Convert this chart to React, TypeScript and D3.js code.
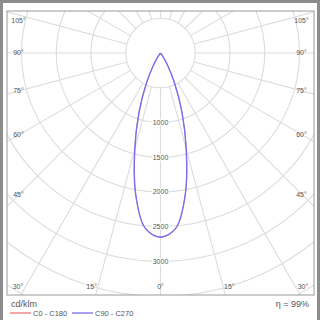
import React from "react";
import * as d3 from "d3";

const angles = [0, 5, 10, 15, 20, 25, 30, 35, 40, 45, 60, 75, 90];
const c0c180 = [2650, 2530, 2060, 1430, 900, 480, 200, 50, 0, 0, 0, 0, 0];
const c90c270 = [2650, 2530, 2060, 1430, 900, 480, 200, 50, 0, 0, 0, 0, 0];
const ringValues = [1000, 1500, 2000, 2500, 3000];
const gridRings = [500, 1000, 1500, 2000, 2500, 3000, 3500, 4000, 4500];
const spokeAngles = d3.range(0, 181, 15);
const sideLabels = [45, 60, 75, 90, 105];
const bottomLabels = [0, 15, 30];
const seriesNames = ["C0 - C180", "C90 - C270"];
const seriesColors = ["#f07878", "#7b6cf0"];
const unitLabel = "cd/klm";
const effLabel = "η = 99%";

export default function App() {
  const W = 320, H = 320;
  const cx = 160.5, cy = 53;
  const fx0 = 7, fy0 = 11, fx1 = 314, fy1 = 295;
  const r = d3.scaleLinear().domain([0, 1000]).range([0, 69.5]);
  const font = "'Liberation Sans', Arial, sans-serif";
  const toXY = (deg: number, v: number, side: number) => {
    const a = (deg * Math.PI) / 180;
    return [cx + side * r(v) * Math.sin(a), cy + r(v) * Math.cos(a)];
  };
  const curve = (vals: number[]) => {
    const pts: [number, number][] = [];
    for (let i = angles.length - 1; i >= 0; i--) pts.push(toXY(angles[i], vals[i], -1) as [number, number]);
    for (let i = 1; i < angles.length; i++) pts.push(toXY(angles[i], vals[i], 1) as [number, number]);
    return d3.line().curve(d3.curveCatmullRom.alpha(0.5))(pts) || "";
  };
  const rMin = r(500), rMax = r(5000);
  const sideX = 18.5;
  return (
    <svg width={W} height={H} style={{ position: "absolute", left: 0, top: 0 }}>
      <defs>
        <clipPath id="frame">
          <rect x={fx0} y={fy0} width={fx1 - fx0} height={fy1 - fy0} />
        </clipPath>
      </defs>
      <rect x={0} y={0} width={W} height={H} fill="#fff" />
      <rect x={0} y={0} width={W} height={3} fill="#8c8c8c" />
      <rect x={0} y={0} width={3} height={H} fill="#8c8c8c" />
      <rect x={W - 3} y={0} width={3} height={H} fill="#8c8c8c" />
      <g clipPath="url(#frame)">
        {gridRings.map((v) => (
          <circle key={v} cx={cx} cy={cy} r={r(v)} fill="none" stroke="#dcdcdc" strokeWidth={1.1} />
        ))}
        {spokeAngles.map((a) =>
          [-1, 1].map((s) => {
            const t = (a * Math.PI) / 180;
            return (
              <line key={a + "_" + s} x1={cx + s * rMin * Math.sin(t)} y1={cy + rMin * Math.cos(t)}
                x2={cx + s * rMax * Math.sin(t)} y2={cy + rMax * Math.cos(t)} stroke="#dcdcdc" strokeWidth={1.1} />
            );
          })
        )}
        <path d={curve(c0c180)} fill="none" stroke={seriesColors[0]} strokeWidth={0.8} />
        <path d={curve(c90c270)} fill="none" stroke={seriesColors[1]} strokeWidth={1.4} />
      </g>
      <rect x={fx0} y={fy0} width={fx1 - fx0} height={fy1 - fy0} fill="none" stroke="#9a9a9a" strokeWidth={1} />
      {ringValues.map((v) => (
        <g key={v}>
          <text x={cx} y={cy + r(v)} dy="0.35em" textAnchor="middle" fontFamily={font} fontSize={7}
            fill="#555" stroke="#fff" strokeWidth={2.5} paintOrder="stroke">{v}</text>
        </g>
      ))}
      {sideLabels.map((a) => {
        const t = (a * Math.PI) / 180;
        const dx = cx - sideX;
        let y = cy + dx / Math.tan(t);
        if (a === 90) y = cy;
        y = Math.max(20.5, y);
        return [-1, 1].map((s) => (
          <text key={a + "_" + s} x={s < 0 ? sideX : W - sideX} y={y} dy="0.35em" textAnchor="middle"
            fontFamily={font} fontSize={7} fill="#555">{a}°</text>
        ));
      })}
      {bottomLabels.map((a) => {
        const t = (a * Math.PI) / 180;
        let off = a === 0 ? 0 : (fy1 - cy) * Math.tan(t) + 4;
        off = Math.min(off, 142.5);
        return (a === 0 ? [1] : [-1, 1]).map((s) => (
          <text key={a + "_" + s} x={cx + s * off} y={287} dy="0.35em" textAnchor="middle"
            fontFamily={font} fontSize={7} fill="#555">{a}°</text>
        ));
      })}
      <text x={11} y={304} dy="0.35em" fontFamily={font} fontSize={9} fill="#555">{unitLabel}</text>
      <text x={309} y={304} dy="0.35em" textAnchor="end" fontFamily={font} fontSize={9} fill="#555">{effLabel}</text>
      {seriesNames.map((n, i) => {
        const x0 = i === 0 ? 10 : 72;
        return (
          <g key={n}>
            <line x1={x0} x2={x0 + 21} y1={313} y2={313} stroke={seriesColors[i]} strokeWidth={1.3} />
            <text x={x0 + 23} y={313} dy="0.35em" fontFamily={font} fontSize={7.5} fill="#555">{n}</text>
          </g>
        );
      })}
    </svg>
  );
}
